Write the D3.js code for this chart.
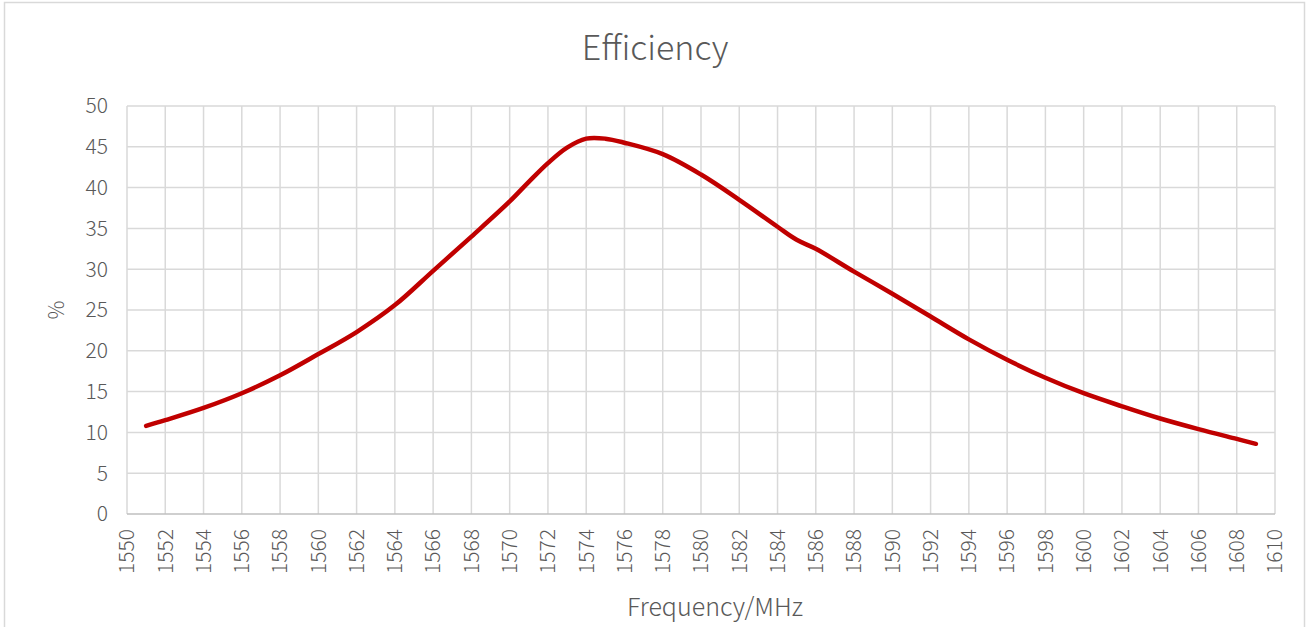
<!DOCTYPE html>
<head>
  <meta charset="utf-8">
  <title>Efficiency</title>
  <style>
    body { margin: 0; background: #fff; }
    text { font-family: "Noto Sans CJK SC", "Noto Sans", sans-serif; font-weight: 300; fill: #595959; }
  </style>
</head>
<body>
<div id="chart"></div>
<script src="https://cdn.jsdelivr.net/npm/d3@7"></script>
<script>

// frequency in MHz, efficiency in %
var freq = [1551, 1552, 1554, 1556, 1558, 1560, 1562, 1564, 1566, 1568, 1570, 1571, 1572, 1573, 1574, 1575,
            1576, 1578, 1580, 1582, 1584, 1585, 1586, 1588, 1590, 1592, 1594, 1596, 1598, 1600,
            1602, 1604, 1606, 1608, 1609];
var eff  = [10.8, 11.5, 13.0, 14.8, 17.0, 19.6, 22.3, 25.6, 29.8, 34.0, 38.3, 40.7, 43.0, 44.9, 46.0, 46.0,
            45.5, 44.1, 41.6, 38.5, 35.2, 33.6, 32.5, 29.7, 27.0, 24.2, 21.4, 18.9, 16.7, 14.8,
            13.2, 11.7, 10.4, 9.2, 8.6];
var xTicks = d3.range(1550, 1611, 2);
var yTicks = d3.range(0, 51, 5);

var width = 1307, height = 627;
var margin = {left: 127, right: 32, top: 106, bottom: 113};

var svg = d3.select("#chart").append("svg")
    .attr("width", width)
    .attr("height", height);

// outer border
svg.append("rect")
    .attr("x", 4.5).attr("y", 2.5)
    .attr("width", 1300).attr("height", 640)
    .attr("fill", "none")
    .attr("stroke", "#d9d9d9")
    .attr("stroke-width", 1.5);

var x = d3.scaleLinear().domain([1550, 1610]).range([margin.left, width - margin.right]);
var y = d3.scaleLinear().domain([0, 50]).range([height - margin.bottom, margin.top]);

// grid
svg.append("g").selectAll("line.v")
    .data(xTicks).enter().append("line")
    .attr("x1", function(d) { return x(d); })
    .attr("x2", function(d) { return x(d); })
    .attr("y1", y(0)).attr("y2", y(50))
    .attr("stroke", "#d9d9d9").attr("stroke-width", 1.5);

svg.append("g").selectAll("line.h")
    .data(yTicks).enter().append("line")
    .attr("x1", x(1550)).attr("x2", x(1610))
    .attr("y1", function(d) { return y(d); })
    .attr("y2", function(d) { return y(d); })
    .attr("stroke", function(d) { return d == 0 ? "#bfbfbf" : "#d9d9d9"; })
    .attr("stroke-width", 1.5);

// y tick labels
svg.append("g").selectAll("text")
    .data(yTicks).enter().append("text")
    .attr("x", 108)
    .attr("y", function(d) { return y(d); })
    .attr("dy", "0.35em")
    .attr("text-anchor", "end")
    .style("font-size", "21px")
    .text(function(d) { return d; });

// x tick labels, rotated
svg.append("g").selectAll("text")
    .data(xTicks).enter().append("text")
    .attr("transform", function(d) { return "translate(" + x(d) + ",529) rotate(-90)"; })
    .attr("dy", "0.35em")
    .attr("text-anchor", "end")
    .style("font-size", "21px")
    .text(function(d) { return d; });

// the curve (smoothed like the spreadsheet line)
var line = d3.line()
    .x(function(d) { return x(d[0]); })
    .y(function(d) { return y(d[1]); })
    .curve(d3.curveCatmullRom.alpha(0.5));

svg.append("path")
    .datum(d3.zip(freq, eff))
    .attr("d", line)
    .attr("fill", "none")
    .attr("stroke", "#c00000")
    .attr("stroke-width", 4.5)
    .attr("stroke-linecap", "round")
    .attr("stroke-linejoin", "round");

// titles
svg.append("text")
    .attr("x", 655).attr("y", 60)
    .attr("text-anchor", "middle")
    .style("font-size", "34px")
    .text("Efficiency");

svg.append("text")
    .attr("x", 715).attr("y", 616)
    .attr("text-anchor", "middle")
    .style("font-size", "25px")
    .text("Frequency/MHz");

svg.append("text")
    .attr("transform", "translate(57,310) rotate(-90)")
    .attr("dy", "0.35em")
    .attr("text-anchor", "middle")
    .style("font-size", "21px")
    .text("%");

</script>
</body>
</html>
